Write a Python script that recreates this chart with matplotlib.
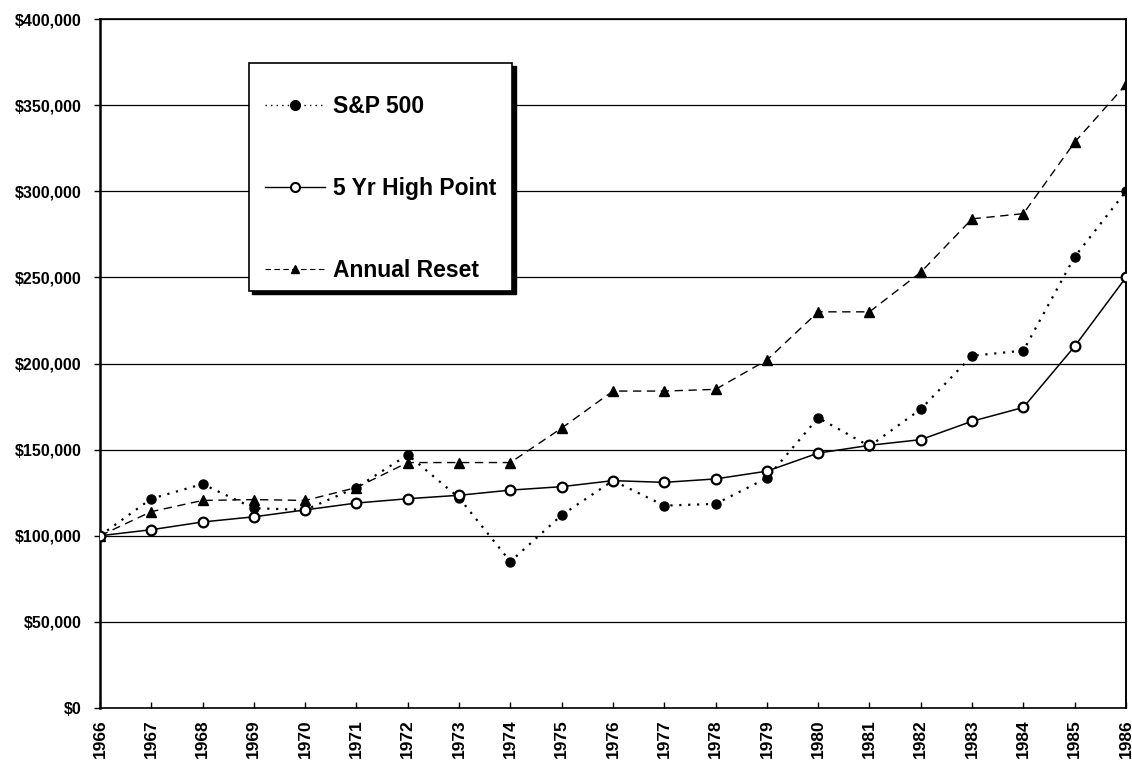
import matplotlib
matplotlib.use("Agg")
import matplotlib.pyplot as plt
from matplotlib.patches import Rectangle
from matplotlib.lines import Line2D
from matplotlib.ticker import FuncFormatter, MultipleLocator

# data
years = list(range(1966, 1987))
sp500 = [100000, 121500, 130000, 116000, 115000, 128000, 147000, 122000, 85000, 112000,
         132000, 117500, 118500, 133500, 168500, 152000, 173500, 204500, 207500, 262000, 300000]
high_point = [100000, 103500, 108000, 111000, 115000, 119000, 121500, 123500, 126500, 128500,
              132000, 131000, 133000, 137500, 148000, 152500, 155800, 166500, 174500, 210000, 250000]
annual_reset = [100000, 114000, 120500, 121000, 120500, 128000, 142500, 142500, 142500, 162500,
                184000, 184000, 185000, 202000, 230000, 230000, 253000, 284000, 287000, 328500, 362000]

plt.rcParams['font.family'] = ['Liberation Sans', 'DejaVu Sans']
plt.rcParams['font.weight'] = 'bold'

fig = plt.figure(figsize=(11.32, 7.64), dpi=100)
ax = fig.add_axes([0.0883, 0.0733, 0.9064, 0.9018])

# horizontal grid
ax.set_axisbelow(True)
ax.yaxis.grid(True, color='black', linewidth=0.9)
ax.xaxis.grid(False)

ax.plot(years, sp500, linestyle=(0, (1, 3)), color='black', linewidth=1.6,
        marker='o', markersize=6.5, markerfacecolor='black', markeredgecolor='black', zorder=3)
ax.plot(years, annual_reset, linestyle=(0, (6, 4)), color='black', linewidth=1.0,
        marker='^', markersize=6.5, markerfacecolor='black', markeredgecolor='black', zorder=4)
ax.plot(years, high_point, linestyle='-', color='black', linewidth=1.1,
        marker='o', markersize=7, markerfacecolor='white', markeredgecolor='black',
        markeredgewidth=1.6, zorder=5)

ax.set_xlim(1966, 1986)
ax.set_ylim(0, 400000)
ax.set_xticks(years)
ax.set_xticklabels([str(y) for y in years], rotation=90, fontsize=12.5, fontweight='bold')
ax.yaxis.set_major_locator(MultipleLocator(50000))
ax.yaxis.set_major_formatter(FuncFormatter(lambda v, p: '${:,.0f}'.format(v)))
for lab in ax.get_yticklabels():
    lab.set_fontsize(11.5)
    lab.set_fontweight('bold')
ax.tick_params(axis='x', direction='in', length=4, width=1, pad=8)
ax.tick_params(axis='y', direction='out', length=4, width=1, pad=9)

for side in ['left', 'bottom', 'top']:
    ax.spines[side].set_linewidth(1.2)
    ax.spines[side].set_color('black')
ax.spines['left'].set_linewidth(1.8)
ax.spines['right'].set_linestyle((0, (1, 1)))
ax.spines['right'].set_linewidth(1.4)

# legend box with shadow
lx, ly, lw, lh = 0.145, 0.605, 0.257, 0.331
ax.add_patch(Rectangle((lx + 0.003, ly - 0.0045), lw, lh, transform=ax.transAxes,
                       facecolor='black', edgecolor='black', zorder=6, clip_on=False))
ax.add_patch(Rectangle((lx, ly), lw, lh, transform=ax.transAxes,
                       facecolor='white', edgecolor='black', linewidth=1.2, zorder=7, clip_on=False))

handles = [
    Line2D([], [], linestyle=(0, (1, 3)), color='black', linewidth=1.0,
           marker='o', markersize=7, markerfacecolor='black'),
    Line2D([], [], linestyle='-', color='black', linewidth=1.0,
           marker='o', markersize=6.5, markerfacecolor='white', markeredgewidth=1.5),
    Line2D([], [], linestyle=(0, (5, 3)), color='black', linewidth=0.8,
           marker='^', markersize=5.5, markerfacecolor='black'),
]
labels = ['S&P 500', '5 Yr High Point', 'Annual Reset']
leg = ax.legend(handles, labels, loc='upper left', bbox_to_anchor=(lx + 0.016, ly + lh - 0.0456),
                frameon=False, prop={'weight': 'bold', 'size': 16.5},
                handlelength=2.6, handletextpad=0.35, labelspacing=2.58, borderpad=0,
                borderaxespad=0)
leg.set_zorder(8)

fig.savefig('out.png', dpi=100)
